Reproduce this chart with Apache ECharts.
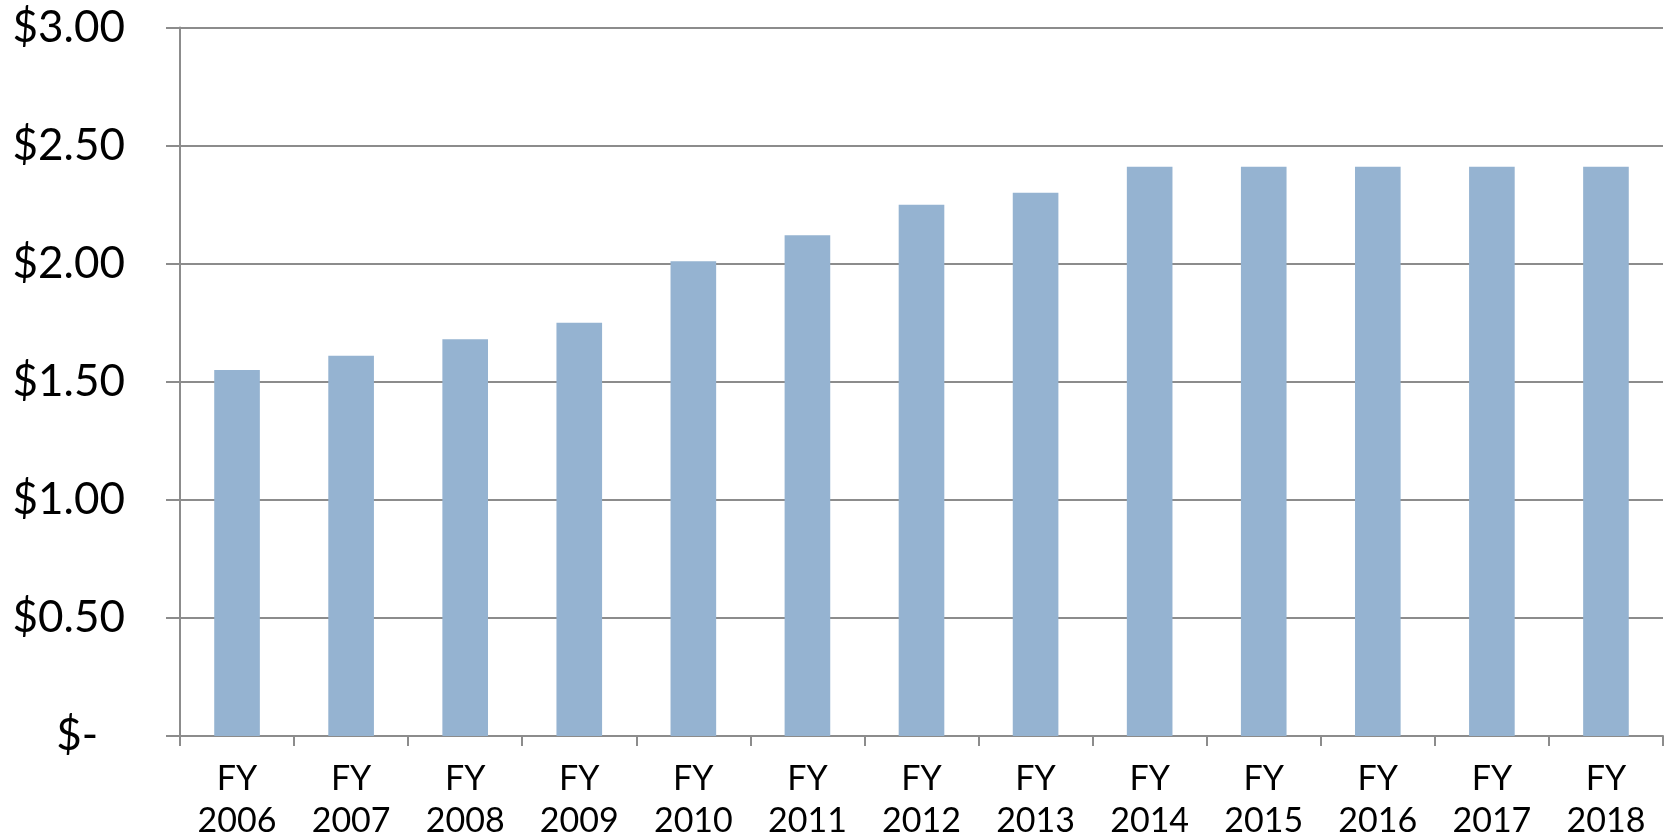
<!DOCTYPE html>
<html>
<head>
<meta charset="utf-8">
<script src="https://cdn.jsdelivr.net/npm/echarts@6/dist/echarts.min.js"></script>
<style>
	html, body { margin: 0; padding: 0; background: #fff; }
	#chart { width: 1667px; height: 836px; }
</style>
</head>
<body>
<div id="chart"></div>
<script>
	// 财年分类与数值
	const years = ['FY\n2006', 'FY\n2007', 'FY\n2008', 'FY\n2009', 'FY\n2010', 'FY\n2011', 'FY\n2012',
		'FY\n2013', 'FY\n2014', 'FY\n2015', 'FY\n2016', 'FY\n2017', 'FY\n2018'];
	const values = [1.55, 1.61, 1.68, 1.75, 2.01, 2.12, 2.25, 2.30, 2.41, 2.41, 2.41, 2.41, 2.41];
	const yTicks = [0, 0.5, 1.0, 1.5, 2.0, 2.5, 3.0];

	const gray = '#8c8c8c';
	let myChart = echarts.init(document.getElementById('chart'));
	myChart.setOption({
		animation: false,
		grid: { left: 180, right: 4, top: 27.5, bottom: 100, outerBoundsMode: 'none', containLabel: false },
		xAxis: {
			type: 'category',
			data: years,
			axisLine: { lineStyle: { color: gray, width: 2 } },
			axisTick: { show: true, length: 10, lineStyle: { color: gray, width: 2 } },
			axisLabel: {
				color: '#000', fontFamily: 'Lato', fontSize: 34, lineHeight: 42,
				margin: 22, interval: 0
			}
		},
		yAxis: {
			type: 'value',
			min: yTicks[0],
			max: yTicks[yTicks.length - 1],
			interval: 0.5,
			axisLine: { show: true, lineStyle: { color: gray, width: 2 } },
			axisTick: { show: true, length: 14, lineStyle: { color: gray, width: 2 } },
			splitLine: { lineStyle: { color: gray, width: 2 } },
			axisLabel: {
				color: '#000', fontFamily: 'Lato', fontSize: 44, margin: 55,
				formatter: v => v === 0 ? '{z|$-}' : '$' + v.toFixed(2),
				rich: { z: { fontFamily: 'Lato', fontSize: 44, color: '#000', padding: [0, 27, 0, 0] } }
			}
		},
		series: [{
			type: 'bar',
			data: values,
			barWidth: '40%',
			itemStyle: { color: '#95b3d1' }
		}]
	});
</script>
</body>
</html>
